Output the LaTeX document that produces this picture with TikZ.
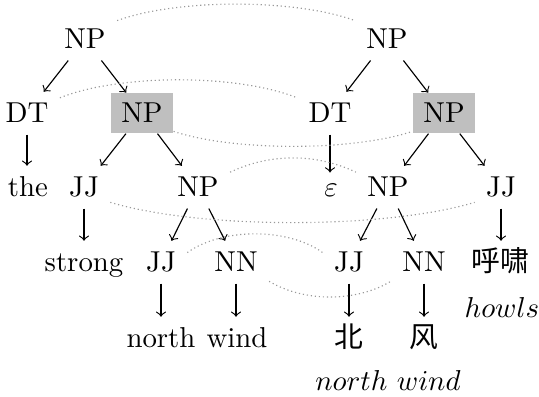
\documentclass[tikz,border=0pt]{standalone}
\usepackage{fontspec}
\newfontfamily\cjk{Noto Sans CJK SC}
\begin{document}
\begin{tikzpicture}[x=0.3472pt,y=-0.3472pt,
  lab/.style={anchor=base, text height=6.83pt, text depth=0pt, inner sep=3.8pt},
  hl/.style={lab, fill=black!25, inner xsep=3.6pt, inner ysep=3.5pt},
  arr/.style={->, line width=0.4pt},
  link/.style={densely dotted, gray!80, line width=0.4pt}]
\useasboundingbox (0,0) rectangle (539,397);
% left tree
\node[lab] (rootL) at (85,49) {NP};
\node[lab] (dtL) at (27,123) {DT};
\node[hl] (npL2) at (142,123) {NP};
\node[lab] (the) at (28,197) {the};
\node[lab] (jjL3) at (84,197) {JJ};
\node[lab] (npL3) at (198,197) {NP};
\node[lab] (strong) at (84,272) {strong};
\node[lab] (jjL4) at (161,272) {JJ};
\node[lab] (nnL4) at (236,272) {NN};
\node[lab] (north) at (161,348) {north};
\node[lab] (wind) at (237,348) {wind};
% right tree
\node[lab] (rootR) at (387,49) {NP};
\node[lab] (dtR) at (330,123) {DT};
\node[hl] (npR2) at (444,123) {NP};
\node[lab, text height=4.5pt] (eps) at (331,197) {$\varepsilon$};
\node[lab] (npR3) at (388,197) {NP};
\node[lab] (jjR3) at (501,197) {JJ};
\node[lab] (jjR4) at (349,272) {JJ};
\node[lab] (nnR4) at (424,272) {NN};
\node[lab] (hx) at (500,272) {\cjk 呼啸};
\node[lab] (bei) at (349,348) {\cjk 北};
\node[lab] (feng) at (424,348) {\cjk 风};
\node[lab] (howls) at (502,318) {$howls$};
\node[lab] (nw) at (388,391) {$north\ wind$};
% left arrows
\draw[arr] (rootL) -- (dtL);
\draw[arr] (rootL) -- (npL2);
\draw[arr] (dtL.south) -- (dtL.south |- the.north);
\draw[arr] (npL2) -- (jjL3);
\draw[arr] (npL2) -- (npL3);
\draw[arr] (jjL3.south) -- (jjL3.south |- strong.north);
\draw[arr] (npL3) -- (jjL4);
\draw[arr] (npL3) -- (nnL4);
\draw[arr] (jjL4.south) -- (jjL4.south |- north.north);
\draw[arr] (nnL4.south) -- (nnL4.south |- wind.north);
% right arrows
\draw[arr] (rootR) -- (dtR);
\draw[arr] (rootR) -- (npR2);
\draw[arr] (dtR.south) -- (dtR.south |- eps.north);
\draw[arr] (npR2) -- (npR3);
\draw[arr] (npR2) -- (jjR3);
\draw[arr] (jjR3.south) -- (jjR3.south |- hx.north);
\draw[arr] (npR3) -- (jjR4);
\draw[arr] (npR3) -- (nnR4);
\draw[arr] (jjR4.south) -- (jjR4.south |- bei.north);
\draw[arr] (nnR4.south) -- (nnR4.south |- feng.north);
% alignment links
\draw[link] (rootL.30) .. controls +(60,-22) and +(-60,-22) .. (rootR.150);
\draw[link] (dtL.25) .. controls +(60,-24) and +(-60,-24) .. (dtR.155);
\draw[link] (npL2.-30) .. controls +(60,20) and +(-60,20) .. (npR2.210);
\draw[link] (npL3.25) .. controls +(40,-19) and +(-40,-19) .. (npR3.155);
\draw[link] (jjL3.-30) .. controls +(90,27) and +(-90,27) .. (jjR3.210);
\draw[link] (jjL4.20) .. controls +(35,-25) and +(-35,-25) .. (jjR4.160);
\draw[link] (nnL4.-30) .. controls +(35,21) and +(-35,21) .. (nnR4.210);
\end{tikzpicture}
\end{document}
